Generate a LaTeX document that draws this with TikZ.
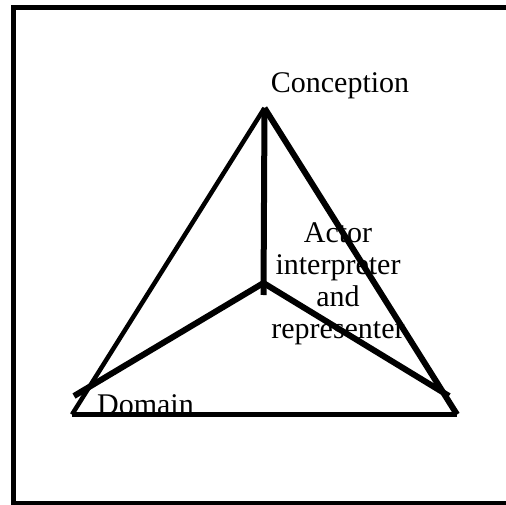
\documentclass[tikz,border=0pt]{standalone}
\usepackage{fontspec}
\setmainfont{Liberation Serif}
\begin{document}
\begin{tikzpicture}[x=1bp,y=-1bp,
  edge/.style={line width=6bp},
  thinedge/.style={line width=4.5bp},
  lbl/.style={font=\fontsize{30bp}{32bp}\selectfont,inner sep=0pt}]
\useasboundingbox (0,0) rectangle (506,505);
\clip (0,0) rectangle (506,505);
% frame, open to the right
\draw[line width=5bp] (13,7.5) rectangle (530,503);
% corners of the triangle and the inner point
\coordinate (top) at (264.5,108);
\coordinate (left) at (72,414.5);
\coordinate (right) at (457,414.5);
\coordinate (mid) at (263.5,283);
\coordinate (stem) at (263.5,295);
\coordinate (domend) at (74,396);
\coordinate (actend) at (449,396);
% labels
\node[lbl,anchor=base] (conc) at (340,93) {Conception};
\node[lbl,anchor=base,align=center] (actor) at (338,338) {Actor\\interpreter\\and\\representer};
\node[lbl,anchor=base] (dom) at (145.5,414) {Domain};
% sides
\draw[thinedge] (top) -- (left);
\draw[edge] (top) -- (right);
\draw[line width=5bp] (left) -- (right);
% inner edges
\draw[edge] (top) -- (stem);
\draw[edge] (mid) -- (domend);
\draw[edge] (mid) -- (actend);
\end{tikzpicture}
\end{document}
